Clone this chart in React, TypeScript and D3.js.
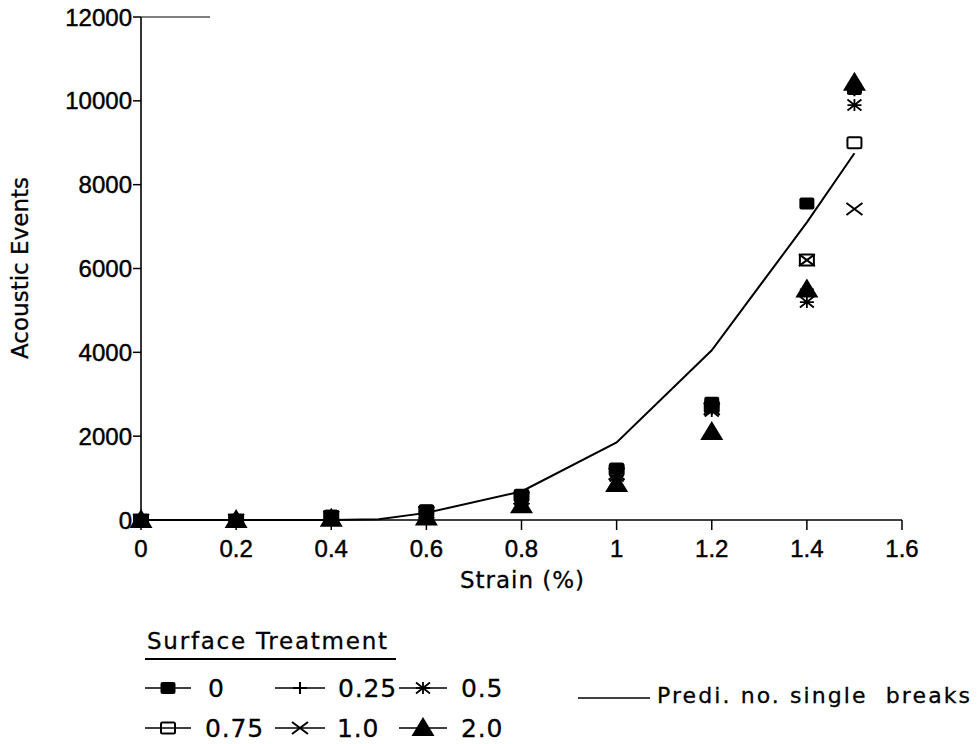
import React from "react";
import * as d3 from "d3";

const strain = [0, 0.2, 0.4, 0.6, 0.8, 1.0, 1.2, 1.4, 1.5];
const treat0 = [0, 0, 100, 230, 600, 1230, 2800, 7550, 10280];
const treat025 = [0, 0, 80, 200, 550, 1150, 2650, 5500, 10250];
const treat05 = [0, 0, 60, 150, 480, 1050, 2600, 5200, 9900];
const treat075 = [0, 0, 90, 210, 580, 1200, 2700, 6200, 9000];
const treat10 = [0, 0, 70, 180, 520, 1100, 2650, 6200, 7420];
const treat20 = [0, 0, 30, 60, 350, 860, 2100, 5500, 10430];

const predStrain = [0, 0.2, 0.4, 0.5, 0.6, 0.8, 1.0, 1.2, 1.4, 1.5];
const predEvents = [0, 0, 0, 20, 170, 680, 1850, 4050, 7100, 8750];

const xTicks = [0, 0.2, 0.4, 0.6, 0.8, 1, 1.2, 1.4, 1.6];
const yTicks = [0, 2000, 4000, 6000, 8000, 10000, 12000];

const seriesNames = ["0", "0.25", "0.5", "0.75", "1.0", "2.0"];
const seriesValues = [treat0, treat025, treat05, treat075, treat10, treat20];
const seriesShapes = ["fsquare", "plus", "star", "osquare", "cross", "triangle"];

const TICK_FONT = "'Liberation Sans', Arial, Helvetica, sans-serif";
const WORD_FONT = "'DejaVu Sans', 'Liberation Sans', sans-serif";

function Marker({ shape, x, y }: { shape: string; x: number; y: number }) {
  const k = "#000";
  switch (shape) {
    case "fsquare":
      return <rect x={x - 7.5} y={y - 6} width={15} height={12} rx={2} fill={k} />;
    case "osquare":
      return <rect x={x - 7} y={y - 5.5} width={14} height={11} rx={1.5} fill="none" stroke={k} strokeWidth={2} />;
    case "plus":
      return <path d={`M${x - 7},${y}H${x + 7}M${x},${y - 6}V${y + 6}`} stroke={k} strokeWidth={2} fill="none" />;
    case "cross":
      return (
        <path d={`M${x - 8},${y - 6}L${x + 8},${y + 6}M${x - 8},${y + 6}L${x + 8},${y - 6}`} stroke={k} strokeWidth={2} fill="none" />
      );
    case "star":
      return (
        <path
          d={`M${x - 7},${y - 5.5}L${x + 7},${y + 5.5}M${x - 7},${y + 5.5}L${x + 7},${y - 5.5}M${x},${y - 6}V${y + 6}M${x - 7},${y}H${x + 7}`}
          stroke={k}
          strokeWidth={1.8}
          fill="none"
        />
      );
    case "triangle":
      return <path d={`M${x},${y - 11}L${x + 11.5},${y + 8}L${x - 11.5},${y + 8}Z`} fill={k} />;
    default:
      return null;
  }
}

export default function App() {
  const W = 979;
  const H = 744;
  const x = d3.scaleLinear().domain([0, 1.6]).range([141, 902]);
  const y = d3.scaleLinear().domain([0, 12000]).range([520, 17]);
  const line = d3
    .line<number>()
    .x((_, i) => x(predStrain[i]))
    .y((d) => y(d));

  const legendCols = [145, 275, 399];
  const legendRows = [688, 728];
  const legendTextX = [[208, 338, 461], [205, 337, 461]];

  const wordStyle = { fontFamily: WORD_FONT, stroke: "#000", strokeWidth: 0.3 } as React.CSSProperties;
  const tickStyle = { fontFamily: TICK_FONT, stroke: "#000", strokeWidth: 0.45 } as React.CSSProperties;

  return (
    <svg width={W} height={H} style={{ display: "block", position: "absolute", left: 0, top: 0 }}>
      <rect width={W} height={H} fill="#fff" />
      {/* axes */}
      <line x1={x(0)} x2={x(1.6)} y1={y(0)} y2={y(0)} stroke="#000" strokeWidth={1.6} />
      <line x1={x(0)} x2={x(0)} y1={y(0)} y2={y(12000)} stroke="#000" strokeWidth={1.6} />
      <line x1={x(0)} x2={210} y1={y(12000)} y2={y(12000)} stroke="#000" strokeWidth={1.1} />
      {yTicks.map((t) => (
        <g key={"y" + t}>
          <line x1={x(0) - 8} x2={x(0)} y1={y(t)} y2={y(t)} stroke="#000" strokeWidth={1.5} />
          <text x={x(0) - 9} y={y(t)} dy="0.36em" textAnchor="end" fontSize={24} fill="#000" style={tickStyle}>
            {t}
          </text>
        </g>
      ))}
      {xTicks.map((t) => (
        <g key={"x" + t}>
          <line x1={x(t)} x2={x(t)} y1={y(0)} y2={y(0) + 10} stroke="#000" strokeWidth={1.5} />
          <text x={x(t)} y={y(0) + 37} textAnchor="middle" fontSize={24} fill="#000" style={tickStyle}>
            {d3.format("~g")(t)}
          </text>
        </g>
      ))}
      <text x={522} y={588} textAnchor="middle" fontSize={23} fill="#000" style={wordStyle} textLength={124} lengthAdjust="spacing">
        Strain (%)
      </text>
      <text
        transform={`translate(28,268) rotate(-90)`}
        textAnchor="middle"
        fontSize={23}
        fill="#000"
        style={wordStyle}
        textLength={182}
        lengthAdjust="spacing"
      >
        Acoustic Events
      </text>

      {/* prediction line */}
      <path d={line(predEvents) || ""} fill="none" stroke="#000" strokeWidth={2} />

      {/* data markers */}
      {seriesValues.map((vals, si) => (
        <g key={"s" + si}>
          {vals.map((v, i) => (
            <Marker key={i} shape={seriesShapes[si]} x={x(strain[i])} y={y(v)} />
          ))}
        </g>
      ))}

      {/* legend */}
      <text x={147} y={649} fontSize={23} fill="#000" style={wordStyle} textLength={240} lengthAdjust="spacing">
        Surface Treatment
      </text>
      <line x1={145} x2={396} y1={659} y2={659} stroke="#000" strokeWidth={1.8} />
      {seriesNames.map((name, i) => {
        const r = Math.floor(i / 3);
        const c = i % 3;
        const lx = legendCols[c];
        const ly = legendRows[r];
        const lw = c === 0 ? 46 : c === 1 ? 50 : 48;
        return (
          <g key={"lg" + i}>
            <line x1={lx} x2={lx + lw} y1={ly} y2={ly} stroke="#000" strokeWidth={1.6} />
            <Marker shape={seriesShapes[i]} x={lx + lw / 2} y={ly} />
            <text
              x={legendTextX[r][c]}
              y={ly}
              dy="0.36em"
              fontSize={25}
              fill="#000"
              style={{ ...wordStyle, letterSpacing: "0.8px" }}
            >
              {name}
            </text>
          </g>
        );
      })}
      <line x1={578} x2={650} y1={698} y2={698} stroke="#000" strokeWidth={1.6} />
      <text
        x={657}
        y={703}
        fontSize={22}
        fill="#000"
        style={{ ...wordStyle, whiteSpace: "pre" }}
        textLength={313}
        lengthAdjust="spacing"
      >
        {"Predi. no. single  breaks"}
      </text>
    </svg>
  );
}
